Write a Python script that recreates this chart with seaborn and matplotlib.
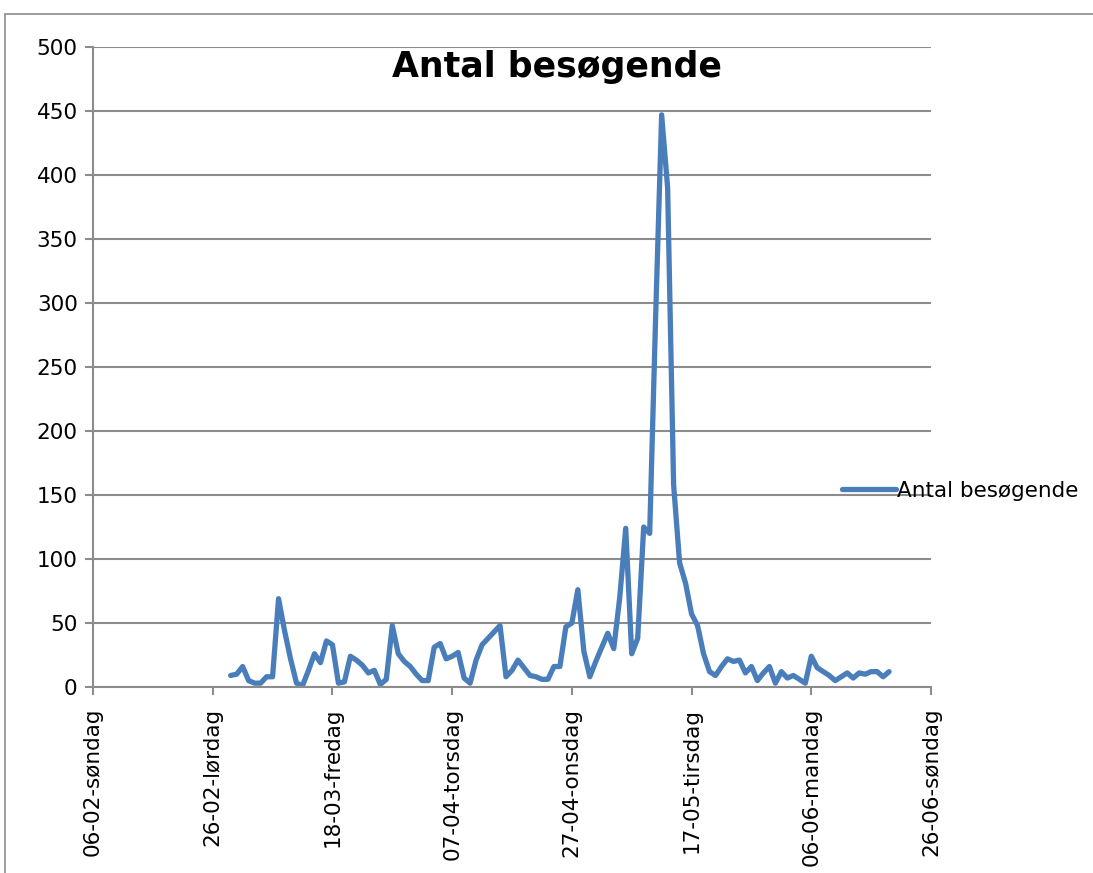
import numpy as np
import pandas as pd
import matplotlib
matplotlib.use("Agg")
import matplotlib.pyplot as plt
from matplotlib.patches import Rectangle
import seaborn as sns

# ========== 数据 ==========
START_DATE = "2011-03-01"
visitors = [
    9, 10, 16, 5, 3, 3, 8, 8, 69, 44,
    22, 3, 1, 13, 26, 19, 36, 33, 3, 4,
    24, 21, 17, 11, 13, 2, 6, 48, 26, 20,
    16, 10, 5, 5, 31, 34, 22, 24, 27, 7,
    3, 21, 33, 38, 43, 48, 8, 13, 21, 15,
    9, 8, 6, 6, 16, 16, 47, 50, 76, 28,
    8, 20, 31, 42, 30, 70, 124, 26, 38, 125,
    120, 290, 447, 390, 158, 97, 81, 57, 48, 26,
    12, 9, 16, 22, 20, 21, 11, 16, 5, 11,
    16, 3, 12, 7, 9, 6, 3, 24, 15, 12,
    9, 5, 8, 11, 7, 11, 10, 12, 12, 8,
    12,
]
tick_dates = ["2011-02-06", "2011-02-26", "2011-03-18", "2011-04-07",
              "2011-04-27", "2011-05-17", "2011-06-06", "2011-06-26"]
tick_labels = ["06-02-søndag", "26-02-lørdag", "18-03-fredag", "07-04-torsdag",
               "27-04-onsdag", "17-05-tirsdag", "06-06-mandag", "26-06-søndag"]
y_ticks = [0, 50, 100, 150, 200, 250, 300, 350, 400, 450, 500]
series_name = "Antal besøgende"

df = pd.DataFrame({
    "dato": pd.date_range(START_DATE, periods=len(visitors), freq="D"),
    "antal": visitors,
})

# ========== 样式 ==========
sns.set_style("white")
plt.rcParams["font.family"] = ["DejaVu Sans"]
plt.rcParams["text.color"] = "black"
plt.rcParams["xtick.color"] = "black"
plt.rcParams["ytick.color"] = "black"

LINE_C = "#4a7ebb"
GRID_C = "#8c8c8c"
FS = 15.5

fig = plt.figure(figsize=(10.93, 8.73), dpi=100)
ax = fig.add_axes([93 / 1093, 1 - 687 / 873, (931 - 93) / 1093, (687 - 47) / 873])

sns.lineplot(data=df, x="dato", y="antal", ax=ax, color=LINE_C,
             linewidth=3.8, label=series_name)

ax.set_xlim(pd.Timestamp(tick_dates[0]), pd.Timestamp(tick_dates[-1]))
ax.set_ylim(0, 500)
ax.set_xticks([pd.Timestamp(d) for d in tick_dates])
ax.set_xticklabels(tick_labels, rotation=90, fontsize=FS)
ax.set_yticks(y_ticks)
ax.set_yticklabels([str(v) for v in y_ticks], fontsize=FS)
ax.set_xlabel("")
ax.set_ylabel("")

ax.grid(axis="y", color=GRID_C, linewidth=1.5)
ax.grid(axis="x", visible=False)
ax.set_axisbelow(True)
for side in ["top", "right"]:
    ax.spines[side].set_visible(False)
for side in ["left", "bottom"]:
    ax.spines[side].set_color(GRID_C)
    ax.spines[side].set_linewidth(1.5)
ax.tick_params(axis="both", which="major", length=6, width=1.5,
               color=GRID_C, labelcolor="black", direction="out")
ax.tick_params(axis="x", bottom=True, pad=9)
ax.tick_params(axis="y", left=True, pad=5)

# 图例（右侧，无边框）
leg = ax.legend(loc="center left", bbox_to_anchor=(0.884, 0.307), frameon=False,
                fontsize=FS, handlelength=2.5, handletextpad=0.05,
                borderaxespad=0)
for t in leg.get_texts():
    t.set_color("black")

# 标题
fig.text(557 / 1093, 1 - 67 / 873, series_name, ha="center", va="center",
         fontsize=25, fontweight="bold", color="black")

# 外框
fig.patches.append(Rectangle((5 / 1093, -0.1), 1.2, 1 - 14 / 873 + 0.1,
                             transform=fig.transFigure, fill=False,
                             edgecolor=GRID_C, linewidth=1.2))

fig.savefig("out.png", dpi=100)
